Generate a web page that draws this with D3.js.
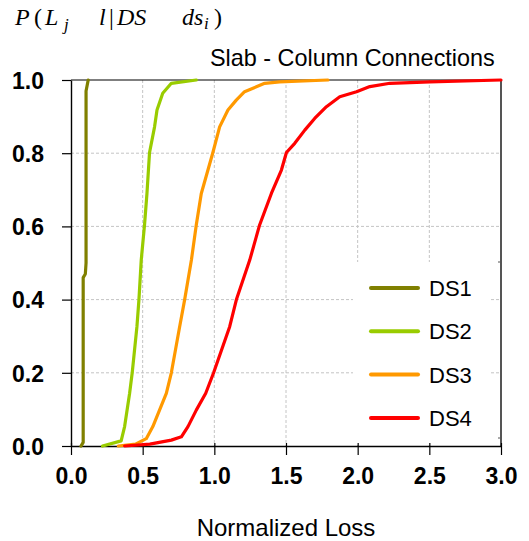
<!DOCTYPE html>
<html>
<head>
<meta charset="utf-8">
<script src="https://cdn.jsdelivr.net/npm/d3@7/dist/d3.min.js"></script>
<style>
  html, body { margin: 0; padding: 0; background: #ffffff; }
  svg { display: block; }
</style>
</head>
<body>
<div id="chart"></div>
<script>
// ---------- data ----------
const seriesNames = ["DS1", "DS2", "DS3", "DS4"];
const seriesColors = ["#808000", "#99cc00", "#ff9900", "#ff0000"];

const ds1X = [0.07, 0.085, 0.085, 0.10, 0.105, 0.105, 0.12];
const ds1Y = [0.0, 0.01, 0.46, 0.47, 0.50, 0.97, 1.0];

const ds2X = [0.22, 0.35, 0.374, 0.409, 0.427, 0.46, 0.474, 0.49, 0.513, 0.53, 0.548, 0.583, 0.60, 0.64, 0.70, 0.874];
const ds2Y = [0.0, 0.014, 0.053, 0.144, 0.20, 0.326, 0.40, 0.508, 0.604, 0.69, 0.802, 0.872, 0.918, 0.964, 0.991, 1.0];

const ds3X = [0.33, 0.45, 0.525, 0.571, 0.665, 0.70, 0.758, 0.793, 0.84, 0.874, 0.909, 0.99, 1.037, 1.095, 1.153, 1.211, 1.351, 1.456, 1.793];
const ds3Y = [0.0, 0.005, 0.02, 0.053, 0.144, 0.20, 0.326, 0.40, 0.508, 0.604, 0.69, 0.802, 0.872, 0.918, 0.945, 0.968, 0.991, 0.995, 1.0];

const ds4X = [0.374, 0.55, 0.70, 0.77, 0.816, 0.874, 0.94, 0.995, 1.107, 1.154, 1.247, 1.316, 1.398, 1.468, 1.503, 1.561, 1.631, 1.70, 1.782, 1.875, 1.992, 2.085, 2.225, 2.504, 3.0];
const ds4Y = [0.0, 0.005, 0.016, 0.025, 0.053, 0.098, 0.144, 0.20, 0.326, 0.40, 0.508, 0.604, 0.69, 0.754, 0.802, 0.827, 0.863, 0.895, 0.927, 0.954, 0.968, 0.982, 0.991, 0.995, 1.0];

const xTicks = [0, 0.5, 1.0, 1.5, 2.0, 2.5, 3.0];
const yTicks = [0, 0.2, 0.4, 0.6, 0.8, 1.0];

const chartTitle = "Slab - Column Connections";
const xAxisTitle = "Normalized Loss";

// ---------- layout ----------
const W = 529, H = 541;
const pL = 71, pR = 501, pT = 80, pB = 446;

const svg = d3.select("#chart").append("svg")
  .attr("width", W).attr("height", H);

const x = d3.scaleLinear().domain([0, 3]).range([pL, pR]);
const y = d3.scaleLinear().domain([0, 1]).range([pB, pT]);

// gridlines
const grid = svg.append("g");
grid.selectAll("line.vg").data(xTicks.filter(t => t > 0 && t < 3)).enter().append("line")
  .attr("x1", d => x(d)).attr("x2", d => x(d))
  .attr("y1", pT).attr("y2", pB)
  .attr("stroke", "#c4c4c4").attr("stroke-width", 1).attr("stroke-dasharray", "3,2");
grid.selectAll("line.hg").data(yTicks.filter(t => t > 0 && t < 1)).enter().append("line")
  .attr("x1", pL).attr("x2", pR)
  .attr("y1", d => y(d)).attr("y2", d => y(d))
  .attr("stroke", "#c4c4c4").attr("stroke-width", 1).attr("stroke-dasharray", "3,2");

// legend background box
const legBox = { x0: 353, x1: 491, y0: 262, y1: 445 };
svg.append("rect")
  .attr("x", legBox.x0).attr("y", legBox.y0)
  .attr("width", legBox.x1 - legBox.x0).attr("height", legBox.y1 - legBox.y0)
  .attr("fill", "#ffffff");
[legBox.y0, 438].forEach(yy => {
  svg.append("line").attr("x1", pR - 3).attr("x2", pR).attr("y1", yy).attr("y2", yy)
    .attr("stroke", "#555").attr("stroke-width", 1);
});

// frame
svg.append("line").attr("x1", pL).attr("x2", pR).attr("y1", pT).attr("y2", pT)
  .attr("stroke", "#000").attr("stroke-width", 1.2);
svg.append("line").attr("x1", pR).attr("x2", pR).attr("y1", pT).attr("y2", pB + 1)
  .attr("stroke", "#555").attr("stroke-width", 2);

// axes
const xAxis = d3.axisBottom(x).tickValues(xTicks).tickFormat(d3.format(".1f"))
  .tickSizeInner(9).tickSizeOuter(0).tickPadding(20);
const gx = svg.append("g").attr("transform", `translate(0,${pB})`).call(xAxis);
gx.select(".domain").attr("stroke", "#000").attr("stroke-width", 1.4);
gx.selectAll(".tick line").attr("stroke", "#000").attr("stroke-width", 1.2).attr("y1", -3);
gx.selectAll(".tick text").attr("font-family", "Arial, 'Liberation Sans', sans-serif")
  .attr("font-size", "23px").attr("font-weight", "bold").attr("fill", "#000").attr("dy", "0.4em");

const yAxis = d3.axisLeft(y).tickValues(yTicks).tickFormat(d3.format(".1f"))
  .tickSizeInner(9).tickSizeOuter(0).tickPadding(18);
const gy = svg.append("g").attr("transform", `translate(${pL},0)`).call(yAxis);
gy.select(".domain").attr("stroke", "#000").attr("stroke-width", 1.4);
gy.selectAll(".tick line").attr("stroke", "#000").attr("stroke-width", 1.2);
gy.selectAll(".tick text").attr("font-family", "Arial, 'Liberation Sans', sans-serif")
  .attr("font-size", "23px").attr("font-weight", "bold").attr("fill", "#000").attr("dy", "0.36em");

// series lines
const allX = [ds1X, ds2X, ds3X, ds4X];
const allY = [ds1Y, ds2Y, ds3Y, ds4Y];
const line = d3.line().x(d => x(d[0])).y(d => y(d[1]));
seriesNames.forEach((name, i) => {
  const pts = allX[i].map((v, k) => [v, allY[i][k]]);
  svg.append("path").datum(pts)
    .attr("d", line)
    .attr("fill", "none")
    .attr("stroke", seriesColors[i])
    .attr("stroke-width", 3.2)
    .attr("stroke-linejoin", "round")
    .attr("stroke-linecap", "round");
});

// legend
const legY0 = 288, legStep = 43.3;
seriesNames.forEach((name, i) => {
  const ly = legY0 + i * legStep;
  svg.append("line").attr("x1", 371).attr("x2", 418).attr("y1", ly).attr("y2", ly)
    .attr("stroke", seriesColors[i]).attr("stroke-width", 4).attr("stroke-linecap", "round");
  svg.append("text").attr("x", 429).attr("y", ly + 8)
    .attr("font-family", "Arial, 'Liberation Sans', sans-serif")
    .attr("font-size", "22px").attr("fill", "#000").text(name);
});

// chart title
svg.append("text").attr("x", 210).attr("y", 66)
  .attr("font-family", "Arial, 'Liberation Sans', sans-serif")
  .attr("font-size", "23.4px").attr("fill", "#000").text(chartTitle);

// x axis title
svg.append("text").attr("x", 286).attr("y", 536).attr("text-anchor", "middle")
  .attr("font-family", "Arial, 'Liberation Sans', sans-serif")
  .attr("font-size", "24px").attr("fill", "#000").text(xAxisTitle);

// y axis formula label (glyph-by-glyph, math spacing)
const f = svg.append("text").attr("y", 25)
  .attr("font-family", "'Liberation Serif', 'Times New Roman', serif")
  .attr("font-style", "italic").attr("font-size", "24px").attr("fill", "#000");
f.append("tspan").attr("x", 15).text("P");
f.append("tspan").attr("x", 34).attr("font-style", "normal").text("(");
f.append("tspan").attr("x", 45).text("L");
f.append("tspan").attr("x", 64).attr("dy", 5).attr("font-size", "17px").text("j");
f.append("tspan").attr("x", 99).attr("dy", -5).text("l");
f.append("tspan").attr("x", 109).attr("font-style", "normal").text("|");
f.append("tspan").attr("x", 117).text("DS");
f.append("tspan").attr("x", 182).text("ds");
f.append("tspan").attr("x", 204).attr("dy", 4).attr("font-size", "17px").text("i");
f.append("tspan").attr("x", 214).attr("dy", -4).attr("font-style", "normal").text(")");
</script>
</body>
</html>
